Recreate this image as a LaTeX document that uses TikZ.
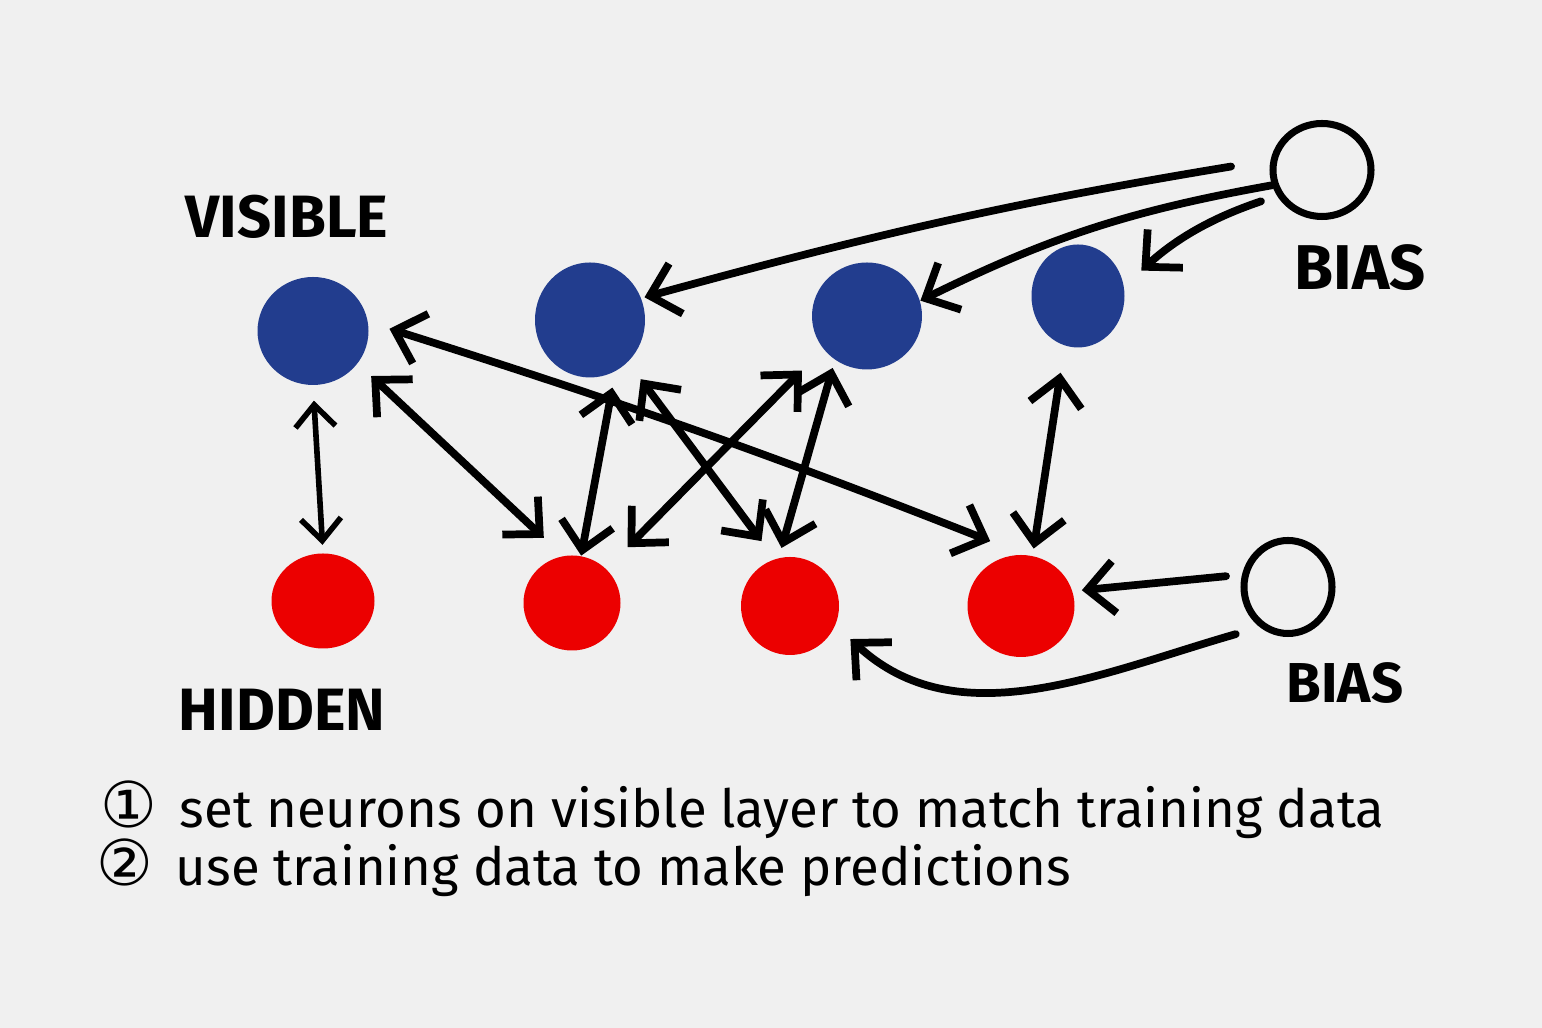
\documentclass[tikz,border=0pt]{standalone}
\usepackage{fontspec}
\setmainfont{Fira Sans}
\newfontfamily\symfont{DejaVu Sans}
\usetikzlibrary{arrows.meta,shapes.geometric}
\definecolor{paper}{RGB}{240,240,240}
\definecolor{visblue}{RGB}{34,61,142}
\definecolor{hidred}{RGB}{236,0,0}
\tikzset{
  vis/.style={ellipse,fill=visblue,inner sep=0pt},
  hid/.style={ellipse,fill=hidred,inner sep=0pt},
  biasc/.style={ellipse,draw,line width=2pt,inner sep=0pt},
  lbl/.style={font=\fontsize{17}{20}\selectfont\bfseries},
  note/.style={anchor=west,font=\fontsize{15}{17}\selectfont},
  ar/.style={-{Straight Barb[length=2.7mm,width=5.2mm]},line width=2.2pt,line cap=round,line join=round},
  dar/.style={ar,{Straight Barb[length=2.7mm,width=5.2mm]}-{Straight Barb[length=2.7mm,width=5.2mm]}},
}

\begin{document}
\begin{tikzpicture}[x=0.1mm,y=-0.1mm]
  \fill[paper] (0,0) rectangle (1542,1028);
  \useasboundingbox (0,0) rectangle (1542,1028);
  % visible layer
  \node[vis,minimum width=11.1mm,minimum height=10.8mm] (v1) at (313,331) {};
  \node[vis,minimum width=11mm,minimum height=11.5mm] (v2) at (590,320) {};
  \node[vis,minimum width=11mm,minimum height=10.7mm] (v3) at (867,316) {};
  \node[vis,minimum width=9.3mm,minimum height=10.3mm] (v4) at (1078,296) {};
  % hidden layer
  \node[hid,minimum width=10.3mm,minimum height=9.5mm] (h1) at (323,601) {};
  \node[hid,minimum width=9.7mm,minimum height=9.5mm] (h2) at (572,603) {};
  \node[hid,minimum width=9.8mm,minimum height=9.8mm] (h3) at (790,606) {};
  \node[hid,minimum width=10.7mm,minimum height=10.2mm] (h4) at (1021,606) {};
  % bias units
  \node[biasc,minimum width=9.8mm,minimum height=9.3mm] (bv) at (1322,170) {};
  \node[biasc,minimum width=8.8mm,minimum height=9.3mm] (bh) at (1288,587) {};
  \node[lbl] (vislbl) at (287,217) {VISIBLE};
  \node[lbl] (hidlbl) at (282,710) {HIDDEN};
  \node[lbl,font=\fontsize{18}{20}\selectfont\bfseries] (bvlbl) at (1360,268) {BIAS};
  \node[lbl,font=\fontsize{16}{20}\selectfont\bfseries] (bhlbl) at (1345,683) {BIAS};
  % weights
  \draw[dar,line width=1.6pt,{Straight Barb[length=2.2mm,width=4mm]}-{Straight Barb[length=2.2mm,width=4mm]},shorten <=1.5mm,shorten >=0.8mm] (v1.south) -- (h1.north);
  \draw[dar,shorten <=1.8mm,shorten >=2.6mm] (v1.-36) -- (h2.101);
  \draw[dar,shorten <=2.2mm,shorten >=3.6mm] (v1.9) to[bend left=2] (h4.87);
  \draw[dar,shorten <=1.6mm] (v2.-64) -- (h2.79);
  \draw[dar,shorten <=2.1mm,shorten >=2.2mm] (v2.-48) -- (h3.108);
  \draw[dar,shorten <=3mm,shorten >=3mm] (v3.-143) -- (h2.45);
  \draw[dar,shorten <=0.8mm,shorten >=1mm] (v3.-126) -- (h3.103);
  \draw[dar,shorten <=2.7mm,shorten >=0.7mm] (v4.-105) -- (h4.77);
  % biases
  \draw[ar,shorten <=4mm,shorten >=0.3mm] (bv.169) to[bend right=3] (v2.23);
  \draw[ar] (bv.197) to[bend right=8] (v3.16);
  \draw[ar,shorten <=1.7mm,shorten >=2.3mm] (bv.210) to[bend right=12] (v4.12);
  \draw[ar,shorten <=1.6mm,shorten >=0.9mm] (bh.165) -- (h4.16);
  \draw[ar,shorten <=2.5mm,shorten >=2mm] (bh.-125) to[out=196,in=-43] (h3.-23);
  % notes
  \node[note] (n1) at (88,810) {{\symfont\fontsize{18}{18}\selectfont ①}\, set neurons on visible layer to match training data};
  \node[note] (n2) at (84,868) {{\symfont\fontsize{18}{18}\selectfont ②}\, use training data to make predictions};
\end{tikzpicture}
\end{document}
